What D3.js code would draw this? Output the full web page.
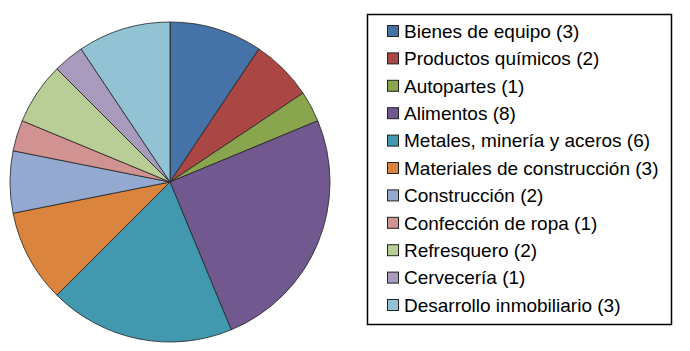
<!DOCTYPE html>
<html>
<head>
<meta charset="utf-8">
<script src="https://cdn.jsdelivr.net/npm/d3@7"></script>
<style>
  body { margin: 0; background: #fff; }
</style>
</head>
<body>
<div id="chart"></div>
<script>
const sectors = ["Bienes de equipo", "Productos químicos", "Autopartes", "Alimentos",
  "Metales, minería y aceros", "Materiales de construcción", "Construcción",
  "Confección de ropa", "Refresquero", "Cervecería", "Desarrollo inmobiliario"];
const counts = [3, 2, 1, 8, 6, 3, 2, 1, 2, 1, 3];
const colors = ["#4572a7", "#aa4643", "#89a54e", "#71588f", "#4198af", "#db843d",
  "#93a9cf", "#d19392", "#b9cd96", "#a99bbd", "#91c3d5"];

const data = sectors.map((s, i) => ({name: s, value: counts[i]}));

const width = 690, height = 351;
const cx = 170, cy = 182, radius = 160;

const svg = d3.select("#chart").append("svg")
    .attr("width", width)
    .attr("height", height);

const color = d3.scaleOrdinal().domain(sectors).range(colors);

// pie, clockwise from 12 o'clock
const pie = d3.pie().sort(null).value(d => d.value);
const arc = d3.arc().innerRadius(0).outerRadius(radius);

const pie_g = svg.append("g")
    .attr("transform", `translate(${cx},${cy})`);

pie_g.selectAll("path")
    .data(pie(data))
    .join("path")
    .attr("d", arc)
    .attr("fill", d => color(d.data.name))
    .attr("stroke", "#222")
    .attr("stroke-width", 0.8)
    .attr("stroke-linejoin", "round");

// legend
const legend_g = svg.append("g");
legend_g.append("rect")
    .attr("x", 367.5)
    .attr("y", 14.5)
    .attr("width", 304)
    .attr("height", 310)
    .attr("fill", "none")
    .attr("stroke", "#000")
    .attr("stroke-width", 1.5);

const row = d3.scaleLinear().domain([0, sectors.length - 1]).range([31, 305]);

const items = legend_g.selectAll("g.item")
    .data(data)
    .join("g")
    .attr("class", "item")
    .attr("transform", (d, i) => `translate(387,${row(i)})`);

items.append("rect")
    .attr("x", 0.5)
    .attr("y", -5.5)
    .attr("width", 11)
    .attr("height", 11)
    .attr("fill", d => color(d.name))
    .attr("stroke", "#222")
    .attr("stroke-width", 1);

items.append("text")
    .attr("x", 17)
    .attr("y", 0)
    .attr("dy", "0.36em")
    .attr("font-family", "'Liberation Sans', Arial, sans-serif")
    .attr("font-size", "19px")
    .attr("fill", "#000")
    .text(d => `${d.name} (${d.value})`);
</script>
</body>
</html>
